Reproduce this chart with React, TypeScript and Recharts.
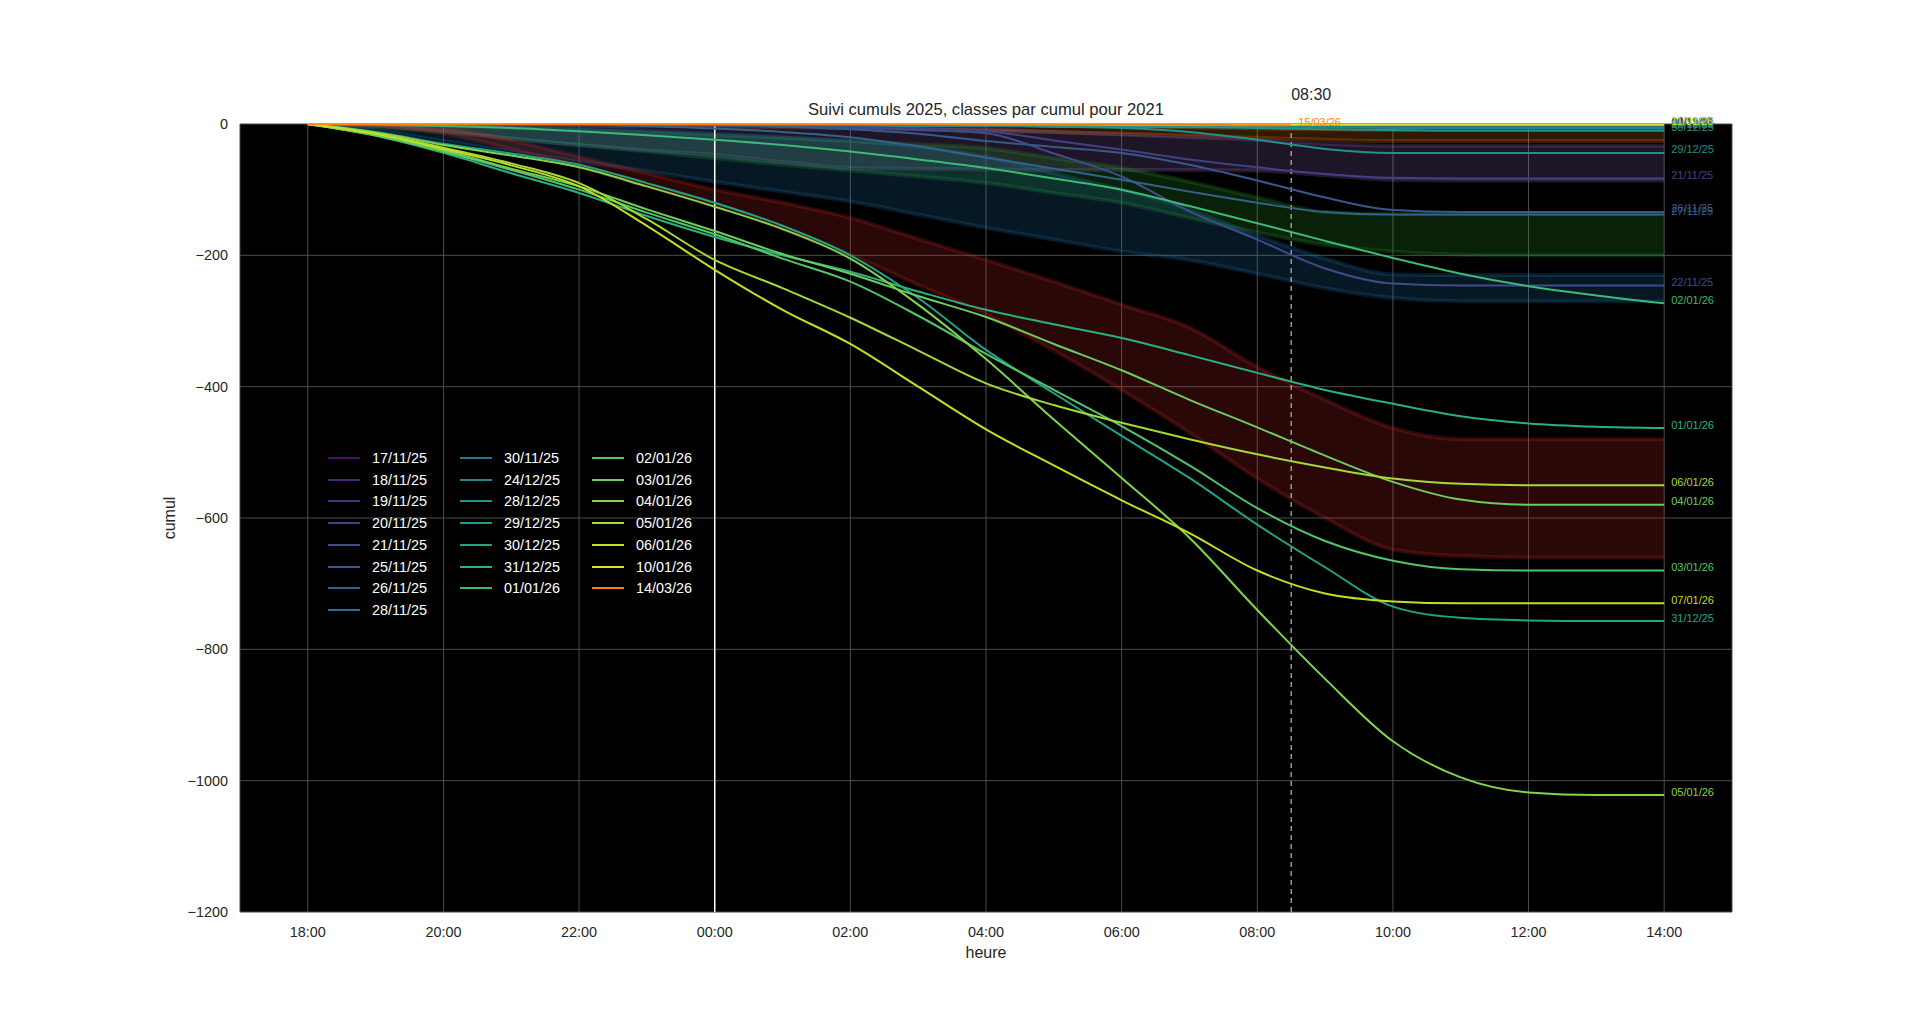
import React from 'react';
import { ComposedChart, Line, Area, XAxis, YAxis, CartesianGrid, ReferenceLine } from 'recharts';

// ---------- axes ----------
const hours = [0, 1, 2, 3, 4, 5, 6, 7, 8, 9, 10, 11, 12, 13, 14, 15, 16, 17, 18, 19, 20];
const hourTicks = [0, 2, 4, 6, 8, 10, 12, 14, 16, 18, 20];
const hourTickLabels = ['18:00', '20:00', '22:00', '00:00', '02:00', '04:00', '06:00', '08:00', '10:00', '12:00', '14:00'];
const cumulTicks = [0, -200, -400, -600, -800, -1000, -1200];
const midnightHour = 6;
const nowHour = 14.5;
const nowLabel = '08:30';

// ---------- series ----------
const seriesNames = ['17/11/25', '18/11/25', '19/11/25', '20/11/25', '21/11/25', '25/11/25', '26/11/25', '28/11/25',
  '30/11/25', '24/12/25', '28/12/25', '29/12/25', '30/12/25', '31/12/25', '01/01/26',
  '02/01/26', '03/01/26', '04/01/26', '05/01/26', '06/01/26', '10/01/26', '14/03/26'];
const endLabels = ['18/11/25', '19/11/25', '20/11/25', '21/11/25', '22/11/25', '26/11/25', '27/11/25', '29/11/25',
  '01/12/25', '25/12/25', '29/12/25', '30/12/25', '31/12/25', '01/01/26', '02/01/26',
  '03/01/26', '04/01/26', '05/01/26', '06/01/26', '07/01/26', '11/01/26', '15/03/26'];
const seriesColors = ['#471365', '#482475', '#46327e', '#424086', '#3e4c8a', '#38588c', '#33638d', '#2e6e8e',
  '#29798e', '#25858e', '#21918c', '#1f998a', '#20a486', '#2ab07f', '#3bbb75',
  '#52c569', '#6ccd5a', '#84d44b', '#a2da37', '#c2df23', '#e0e318', '#ff7f0e'];

const s171125 = [0, 0, 0, 0, 0, 0, 0, 0, 0, 0, 0, 0, -1, -1, -1, -1, -1, -1, -1, -1, -1];
const s181125 = [0, 0, 0, 0, 0, 0, 0, 0, -1, -1, -1, -1, -2, -2, -2, -2, -2, -2, -2, -2, -2];
const s191125 = [0, 0, 0, 0, 0, 0, 0, -1, -1, -1, -2, -2, -2, -3, -3, -3, -3, -3, -3, -3, -3];
const s201125 = [0, 0, 0, 0, 0, 0, -1, -2, -4, -7, -11, -25, -39, -54, -66, -76, -82, -83, -83, -83, -83];
const s211125 = [0, 0, 0, 0, 0, 0, -2, -4, -6, -9, -14, -45, -80, -133, -176, -220, -243, -246, -246, -246, -246];
const s251125 = [0, 0, 0, 0, 0, 0, -2, -4, -8, -15, -26, -35, -44, -62, -86, -112, -131, -134, -134, -134, -134];
const s261125 = [0, 0, 0, 0, -1, -3, -7, -12, -20, -34, -51, -68, -85, -103, -120, -134, -138, -138, -138, -138, -138];
const s281125 = [0, 0, 0, 0, 0, 0, -1, -1, -2, -2, -3, -3, -4, -4, -4, -4, -4, -4, -4, -4, -4];
const s301125 = [0, 0, 0, 0, 0, 0, 0, 0, -1, -1, -1, -1, -1, -2, -2, -2, -2, -2, -2, -2, -2];
const s241225 = [0, 0, 0, 0, 0, -1, -1, -2, -2, -3, -3, -4, -4, -5, -5, -5, -6, -6, -6, -6, -6];
const s281225 = [0, 0, 0, 0, 0, -1, -1, -1, -1, -2, -2, -4, -6, -12, -24, -38, -44, -44, -44, -44, -44];
const s291225 = [0, 0, 0, 0, 0, 0, 0, -1, -1, -1, -1, -2, -3, -4, -6, -8, -9, -10, -10, -10, -10];
const s301225 = [0, -12, -30, -45, -62, -90, -120, -155, -200, -265, -344, -410, -475, -539, -610, -675, -735, -752, -756, -757, -757];
const s311225 = [0, -18, -44, -75, -105, -140, -172, -200, -225, -255, -283, -305, -326, -352, -379, -405, -426, -445, -456, -461, -463];
const s010126 = [0, -1, -3, -6, -11, -17, -24, -32, -42, -54, -67, -83, -100, -125, -151, -178, -204, -228, -247, -261, -273];
const s020126 = [0, -17, -42, -70, -100, -135, -168, -205, -240, -292, -350, -405, -460, -520, -585, -635, -665, -678, -680, -680, -680];
const s030126 = [0, -17, -40, -68, -95, -130, -163, -198, -228, -262, -294, -335, -375, -420, -462, -505, -545, -572, -580, -580, -580];
const s040126 = [0, -13, -32, -48, -66, -95, -126, -160, -205, -275, -358, -450, -539, -630, -740, -845, -940, -995, -1018, -1022, -1022];
const s050126 = [0, -15, -36, -60, -90, -145, -207, -250, -295, -345, -395, -428, -455, -480, -503, -523, -540, -548, -550, -550, -550];
const s060126 = [0, -15, -38, -63, -95, -155, -222, -283, -335, -400, -465, -520, -573, -623, -680, -715, -727, -730, -730, -730, -730];
const s100126 = [0, 0, 0, 0, 0, 0, 0, 0, 0, 0, 0, 0, -1, -1, -1, -1, -1, -1, -1, -1, -1];
const currentHours = [0, 1, 2, 3, 4, 5, 6, 7, 8, 9, 10, 11, 12, 13, 14, 14.5];
const s140326 = [0, 0, 0, 0, 0, 0, 0, 0, 0, 0, -1, -1, -1, -1, -2, -2];

const seriesValues = [s171125, s181125, s191125, s201125, s211125, s251125, s261125, s281125, s301125, s241225,
  s281225, s291225, s301225, s311225, s010126, s020126, s030126, s040126, s050126, s060126, s100126];

// ---------- 2021 class envelopes ----------
const bandNames = ['orange', 'purple', 'green', 'blue', 'red'];
const bandColors = ['#ff7f0e', '#9467bd', '#2ca02c', '#1f77b4', '#d62728'];
const orangeUpper = [0, 0, 0, 0, 0, 0, 0, 0, 0, 0, -1, -2, -3, -5, -7, -8, -9, -9, -9, -9, -9];
const orangeLower = [0, 0, -1, -1, -2, -3, -4, -5, -6, -8, -10, -12, -15, -18, -21, -24, -26, -26, -26, -26, -26];
const purpleUpper = [0, 0, 0, 0, 0, -1, -1, -2, -3, -5, -8, -12, -16, -20, -24, -30, -33, -33, -33, -33, -33];
const purpleLower = [0, -3, -11, -22, -32, -40, -47, -58, -67, -68, -69, -70, -70, -70, -71, -78, -85, -86, -86, -86, -86];
const greenUpper = [0, -1, -3, -6, -9, -13, -17, -21, -26, -31, -37, -52, -67, -88, -112, -134, -137, -137, -137, -137, -137];
const greenLower = [0, -5, -12, -22, -32, -42, -52, -62, -71, -80, -90, -105, -120, -143, -165, -184, -194, -199, -200, -200, -200];
const blueUpper = [0, 0, -1, -3, -6, -10, -15, -20, -26, -35, -50, -75, -100, -130, -170, -205, -229, -230, -230, -230, -230];
const blueLower = [0, -10, -26, -42, -57, -72, -88, -103, -118, -138, -158, -176, -194, -207, -228, -250, -265, -270, -270, -270, -270];
const redUpper = [0, -1, -6, -25, -50, -75, -100, -120, -143, -175, -207, -240, -275, -310, -370, -420, -463, -480, -480, -480, -480];
const redLower = [0, -3, -14, -38, -65, -95, -123, -160, -199, -245, -290, -345, -405, -470, -540, -600, -648, -658, -660, -660, -660];
const bandUppers = [orangeUpper, purpleUpper, greenUpper, blueUpper, redUpper];
const bandLowers = [orangeLower, purpleLower, greenLower, blueLower, redLower];

// ---------- table ----------
const allHours = Array.from(new Set([...hours, ...currentHours])).sort((a, b) => a - b);
const table = allHours.map((h) => {
  const row: Record<string, any> = { h };
  const hi = hours.indexOf(h);
  if (hi >= 0) {
    seriesValues.forEach((vals, k) => { row['s' + k] = vals[hi]; });
    bandNames.forEach((b, k) => { row['b_' + b] = [bandLowers[k][hi], bandUppers[k][hi]]; });
  }
  const ci = currentHours.indexOf(h);
  if (ci >= 0) row['s21'] = s140326[ci];
  return row;
});

const FONT = '"Liberation Sans", Arial, sans-serif';
const TEXT = '#262626';

const makeEndLabel = (k: number, lastH: number) => (props: any) => {
  const { x, y, index } = props;
  if (index == null || !table[index] || table[index].h !== lastH) return <g />;
  return (
    <text x={x + 7} y={y - 3.5} fill={seriesColors[k]} fontSize={11} fontFamily={FONT} dominantBaseline="central">
      {endLabels[k]}
    </text>
  );
};

const W = 1907;
const H = 1000;
const M = { top: 116, right: 183, bottom: 56, left: 0 };
const YW = 232;

function LegendBlock() {
  const cols = [seriesNames.slice(0, 8), seriesNames.slice(8, 15), seriesNames.slice(15)];
  const colX = [320, 452, 584];
  return (
    <div style={{ position: 'absolute', left: 0, top: 0, pointerEvents: 'none' }}>
      {cols.map((col, c) =>
        col.map((name, r) => {
          const k = seriesNames.indexOf(name);
          return (
            <div key={name} style={{ position: 'absolute', left: colX[c], top: 450 + r * 21.7 - 9, height: 18, display: 'flex', alignItems: 'center', whiteSpace: 'nowrap' }}>
              <div style={{ width: 32, height: 2, background: seriesColors[k], marginRight: 12 }} />
              <span style={{ color: '#ffffff', fontSize: 14.4, fontFamily: FONT }}>{name}</span>
            </div>
          );
        })
      )}
    </div>
  );
}

export default function App() {
  const plotLeft = M.left + YW;
  const plotRight = W - M.right;
  const plotTop = M.top;
  const plotBottom = H - M.bottom - 40;
  const cx = (plotLeft + plotRight) / 2;
  return (
    <div style={{ position: 'relative', width: W, height: H, fontFamily: FONT, background: '#fff' }}>
      <ComposedChart width={W} height={H} data={table} margin={M}>
        <CartesianGrid stroke="#4d4d4d" strokeWidth={1} fill="#000000" fillOpacity={1} />
        <XAxis
          type="number"
          dataKey="h"
          domain={[-1, 21]}
          ticks={hourTicks}
          tickFormatter={(v: number) => hourTickLabels[hourTicks.indexOf(v)] ?? ''}
          axisLine={false}
          tickLine={false}
          tickSize={0}
          tickMargin={15}
          height={40}
          tick={{ fill: TEXT, fontSize: 14.4, fontFamily: FONT }}
          allowDataOverflow
        />
        <YAxis
          type="number"
          domain={[-1200, 0]}
          ticks={cumulTicks}
          tickFormatter={(v: number) => String(v).replace('-', '\u2212')}
          axisLine={false}
          tickLine={false}
          tickSize={0}
          tickMargin={12}
          width={YW}
          tick={{ fill: TEXT, fontSize: 14.4, fontFamily: FONT }}
          allowDataOverflow
        />
        {bandNames.map((b, k) => (
          <Area
            key={b}
            dataKey={'b_' + b}
            type="monotone"
            fill={bandColors[k]}
            fillOpacity={0.2}
            stroke={bandColors[k]}
            strokeOpacity={0.22}
            strokeWidth={4}
            connectNulls
            isAnimationActive={false}
            dot={false}
            activeDot={false}
          />
        ))}
        <ReferenceLine x={midnightHour} stroke="#ffffff" strokeWidth={1.5} />
        <ReferenceLine x={nowHour} stroke="#b0b0b0" strokeWidth={1.3} strokeDasharray="5 4" />
        {seriesNames.map((name, k) => (
          <Line
            key={name}
            dataKey={'s' + k}
            type="monotone"
            stroke={seriesColors[k]}
            strokeWidth={2}
            dot={false}
            activeDot={false}
            connectNulls
            isAnimationActive={false}
            label={makeEndLabel(k, k === 21 ? nowHour : 20)}
          />
        ))}
      </ComposedChart>
      <div style={{ position: 'absolute', left: cx, top: 102, transform: 'translate(-50%, -50%)', fontSize: 16.6, color: TEXT, whiteSpace: 'nowrap' }}>
        Suivi cumuls 2025, classes par cumul pour 2021
      </div>
      <div style={{ position: 'absolute', left: plotLeft + (nowHour + 1) / 22 * (plotRight - plotLeft), top: 87, transform: 'translate(0, -50%)', fontSize: 16, color: TEXT, whiteSpace: 'nowrap' }}>
        {nowLabel}
      </div>
      <div style={{ position: 'absolute', left: cx, top: 945, transform: 'translate(-50%, -50%)', fontSize: 16, color: TEXT }}>
        heure
      </div>
      <div style={{ position: 'absolute', left: 162, top: (plotTop + plotBottom) / 2, transform: 'translate(-50%, -50%) rotate(-90deg)', fontSize: 16, color: TEXT }}>
        cumul
      </div>
      <LegendBlock />
    </div>
  );
}
